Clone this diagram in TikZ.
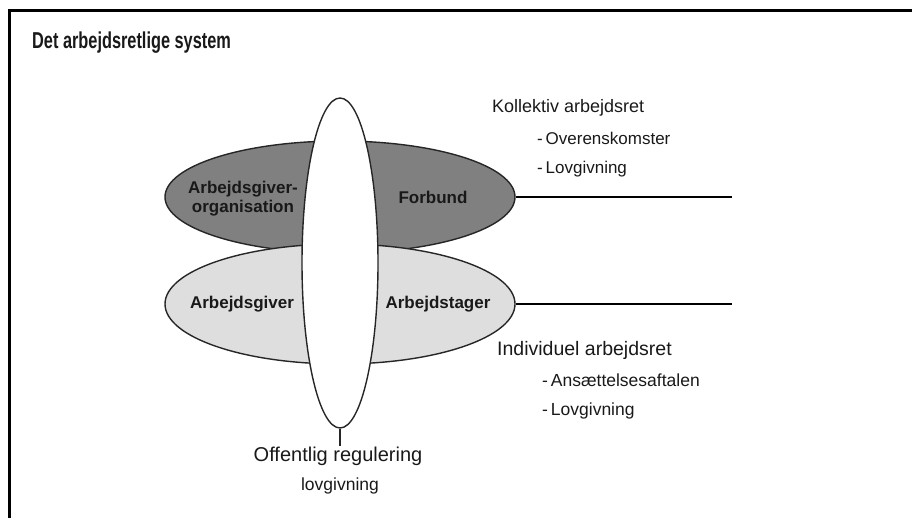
\documentclass[tikz,border=0pt]{standalone}
\usepackage{fontspec}
\setmainfont{Liberation Sans}
\usetikzlibrary{shapes.geometric}

\definecolor{orggray}{RGB}{128,128,128}
\definecolor{indgray}{RGB}{222,222,222}
\definecolor{txtgray}{RGB}{25,25,25}

\tikzset{
  ring/.style={ellipse, draw=black!85, line width=1.4pt, inner sep=0pt},
  lbl/.style={font=\fontsize{17}{19}\selectfont\bfseries, text=txtgray, align=center, inner sep=0pt},
  head/.style={font=\fontsize{19}{21}\selectfont, text=txtgray, anchor=base west, inner sep=0pt},
  item/.style={font=\fontsize{17}{19}\selectfont, text=txtgray, anchor=base west, inner sep=0pt},
  bar/.style={line width=2.8pt, black}
}

\begin{document}
\begin{tikzpicture}[x=1pt, y=-1pt]
\useasboundingbox (0,0) rectangle (912,518);
% frame
\draw[line width=3pt, black] (9.8,518) -- (9.8,10.8) -- (912,10.8);
\node[anchor=base west, inner sep=0pt, text=txtgray] (title) at (32,49)
  {\scalebox{0.71}[1]{\fontsize{23}{25}\selectfont\bfseries Det arbejdsretlige system}};

% the three ellipses
\node[ring, fill=orggray, minimum width=350pt, minimum height=112pt] (orgEll) at (340,197) {};
\node[ring, fill=indgray, minimum width=350pt, minimum height=120pt] (indEll) at (340,304) {};
\node[ring, fill=white, minimum width=76pt, minimum height=330pt] (pubEll) at (340,263) {};

% labels in the ellipses
\node[lbl] (agOrg) at (243,199) {Arbejdsgiver-\\organisation};
\node[lbl] (forbund) at (433,197) {Forbund};
\node[lbl] (ag) at (242,304) {Arbejdsgiver};
\node[lbl] (at) at (438,304) {Arbejdstager};

% lines to the right
\coordinate (kolEnd) at (732,197);
\coordinate (indEnd) at (732,304);
\draw[bar] (orgEll.east) -- (kolEnd);
\draw[bar] (indEll.east) -- (indEnd);

% kollektiv
\node[head, font=\fontsize{18}{20}\selectfont] (kol) at (492,113) {Kollektiv arbejdsret};
\node[item] (kolA) at (537,145) {-\,Overenskomster};
\node[item] (kolB) at (537,174) {-\,Lovgivning};

% individuel
\node[head, font=\fontsize{19.5}{21}\selectfont] (ind) at (497,355) {Individuel arbejdsret};
\node[item, font=\fontsize{17.5}{19}\selectfont] (indA) at (542,386) {-\,Ansættelsesaftalen};
\node[item, font=\fontsize{17.5}{19}\selectfont] (indB) at (542,415) {-\,Lovgivning};

% offentlig regulering
\node[font=\fontsize{20}{22}\selectfont, text=txtgray, anchor=base, inner sep=0pt] (off) at (338,461) {Offentlig regulering};
\node[font=\fontsize{17.5}{19}\selectfont, text=txtgray, anchor=base, inner sep=0pt] (lov) at (340,490) {lovgivning};
\coordinate (offTop) at (340,446);
\draw[line width=1.4pt, black!85] (pubEll.south) -- (offTop);
\end{tikzpicture}
\end{document}
